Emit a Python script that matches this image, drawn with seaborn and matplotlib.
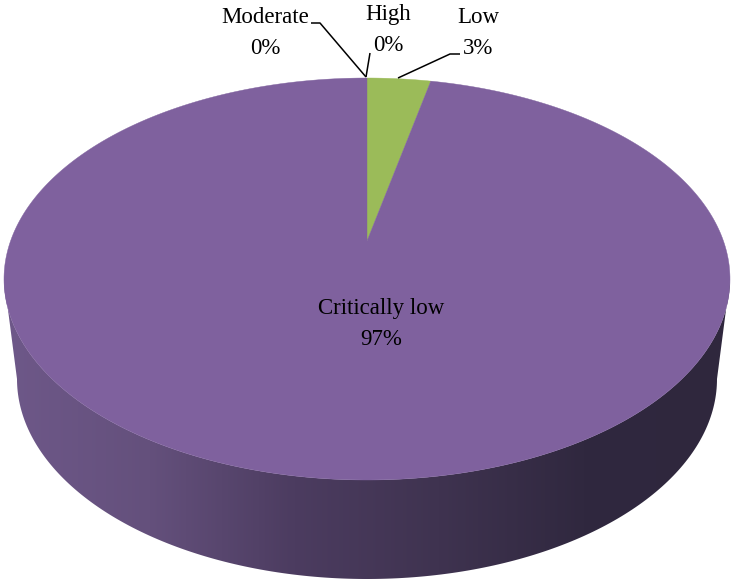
import numpy as np
import matplotlib
matplotlib.use("Agg")
import matplotlib.pyplot as plt
from matplotlib.colors import LinearSegmentedColormap
from matplotlib.patches import Polygon
import seaborn as sns

categories = ["Low", "Critically low", "Moderate", "High"]
values = [3.4, 96.6, 0, 0]

W, H = 734, 582
cx, cy = 367, 279      # middle of the top ellipse, in pixels
rx, ry = 363, 201
apex_y = 241           # where the slices meet (perspective)
bottom_cy, bottom_rx, bottom_ry = 379, 350, 200

sns.set_theme(style="white")
plt.rcParams["font.family"] = ["Liberation Serif", "DejaVu Serif"]
colors = sns.color_palette(["#9BBB59", "#7F619E", "#4BACC6", "#C0504D"])
wall_colors = ["#6E5889", "#64507C", "#4C3C60", "#3F3350", "#30283F", "#2F273D"]


def to_data(x, y):
    return (x - cx) / rx, (cy - y) / ry


fig, ax = plt.subplots(figsize=(W / 100, H / 100), dpi=100)
fig.subplots_adjust(0, 0, 1, 1)

wedges, _ = ax.pie(values, colors=colors, startangle=90, counterclock=False,
                   radius=1, wedgeprops={"linewidth": 0})
ax.set_aspect("auto")
ax.set_xlim(to_data(0, 0)[0], to_data(W, 0)[0])
ax.set_ylim(to_data(0, H)[1], to_data(0, 0)[1])

# move the slice centre with a projective map that keeps the outline
k = (cy - apex_y) / ry
for w, val, col in zip(wedges, values, colors):
    w.set_visible(False)
    if val == 0:
        continue
    th = np.radians(np.linspace(w.theta1, w.theta2, 400))
    px, py = np.r_[0, np.cos(th)], np.r_[0, np.sin(th)]
    d = k * py + 1
    new = np.column_stack([px * np.sqrt(1 - k ** 2) / d, (py + k) / d])
    ax.add_patch(Polygon(new, closed=True, facecolor=col, edgecolor=col,
                         linewidth=0.3, zorder=3))

# side wall, gradient clipped to the outline
t = np.linspace(np.pi, 2 * np.pi, 200)
wall_x = np.r_[-1, (bottom_rx / rx) * np.cos(t), 1, np.cos(t[::-1])]
wall_y = np.r_[0, ((cy - bottom_cy) + bottom_ry * np.sin(t)) / ry, 0, np.sin(t[::-1])]
wall = Polygon(np.column_stack([wall_x, wall_y]), closed=True, transform=ax.transData,
               facecolor="none", edgecolor="none")
ax.add_patch(wall)
cmap = LinearSegmentedColormap.from_list("wall", wall_colors)
xlim, ylim = ax.get_xlim(), ax.get_ylim()
img = ax.imshow(np.linspace(0, 1, 256)[None, :], cmap=cmap, aspect="auto",
                extent=[-1, 1, ylim[0], ylim[1]], zorder=1)
img.set_clip_path(wall)
ax.set_xlim(xlim)
ax.set_ylim(ylim)

# leader lines
leaders = [
    ([311, 320, 366], [23, 23, 77]),
    ([370, 366], [53, 77]),
    ([460, 450, 398], [54, 54, 78]),
]
for xs, ys in leaders:
    lx, ly = to_data(np.array(xs), np.array(ys))
    ax.plot(lx, ly, color="black", lw=1.1, zorder=4, solid_capstyle="butt")

label_pos = {"Low": (478, 33), "Critically low": (381, 324),
             "Moderate": (265, 33), "High": (388, 30)}
for cat, val in zip(categories, values):
    x, y = to_data(*label_pos[cat])
    ax.text(x, y, f"{cat}\n{val:.0f}%", ha="center", va="center", fontsize=16.5,
            color="black", linespacing=1.62, zorder=5)

fig.savefig("out.png", dpi=100, facecolor="white")
